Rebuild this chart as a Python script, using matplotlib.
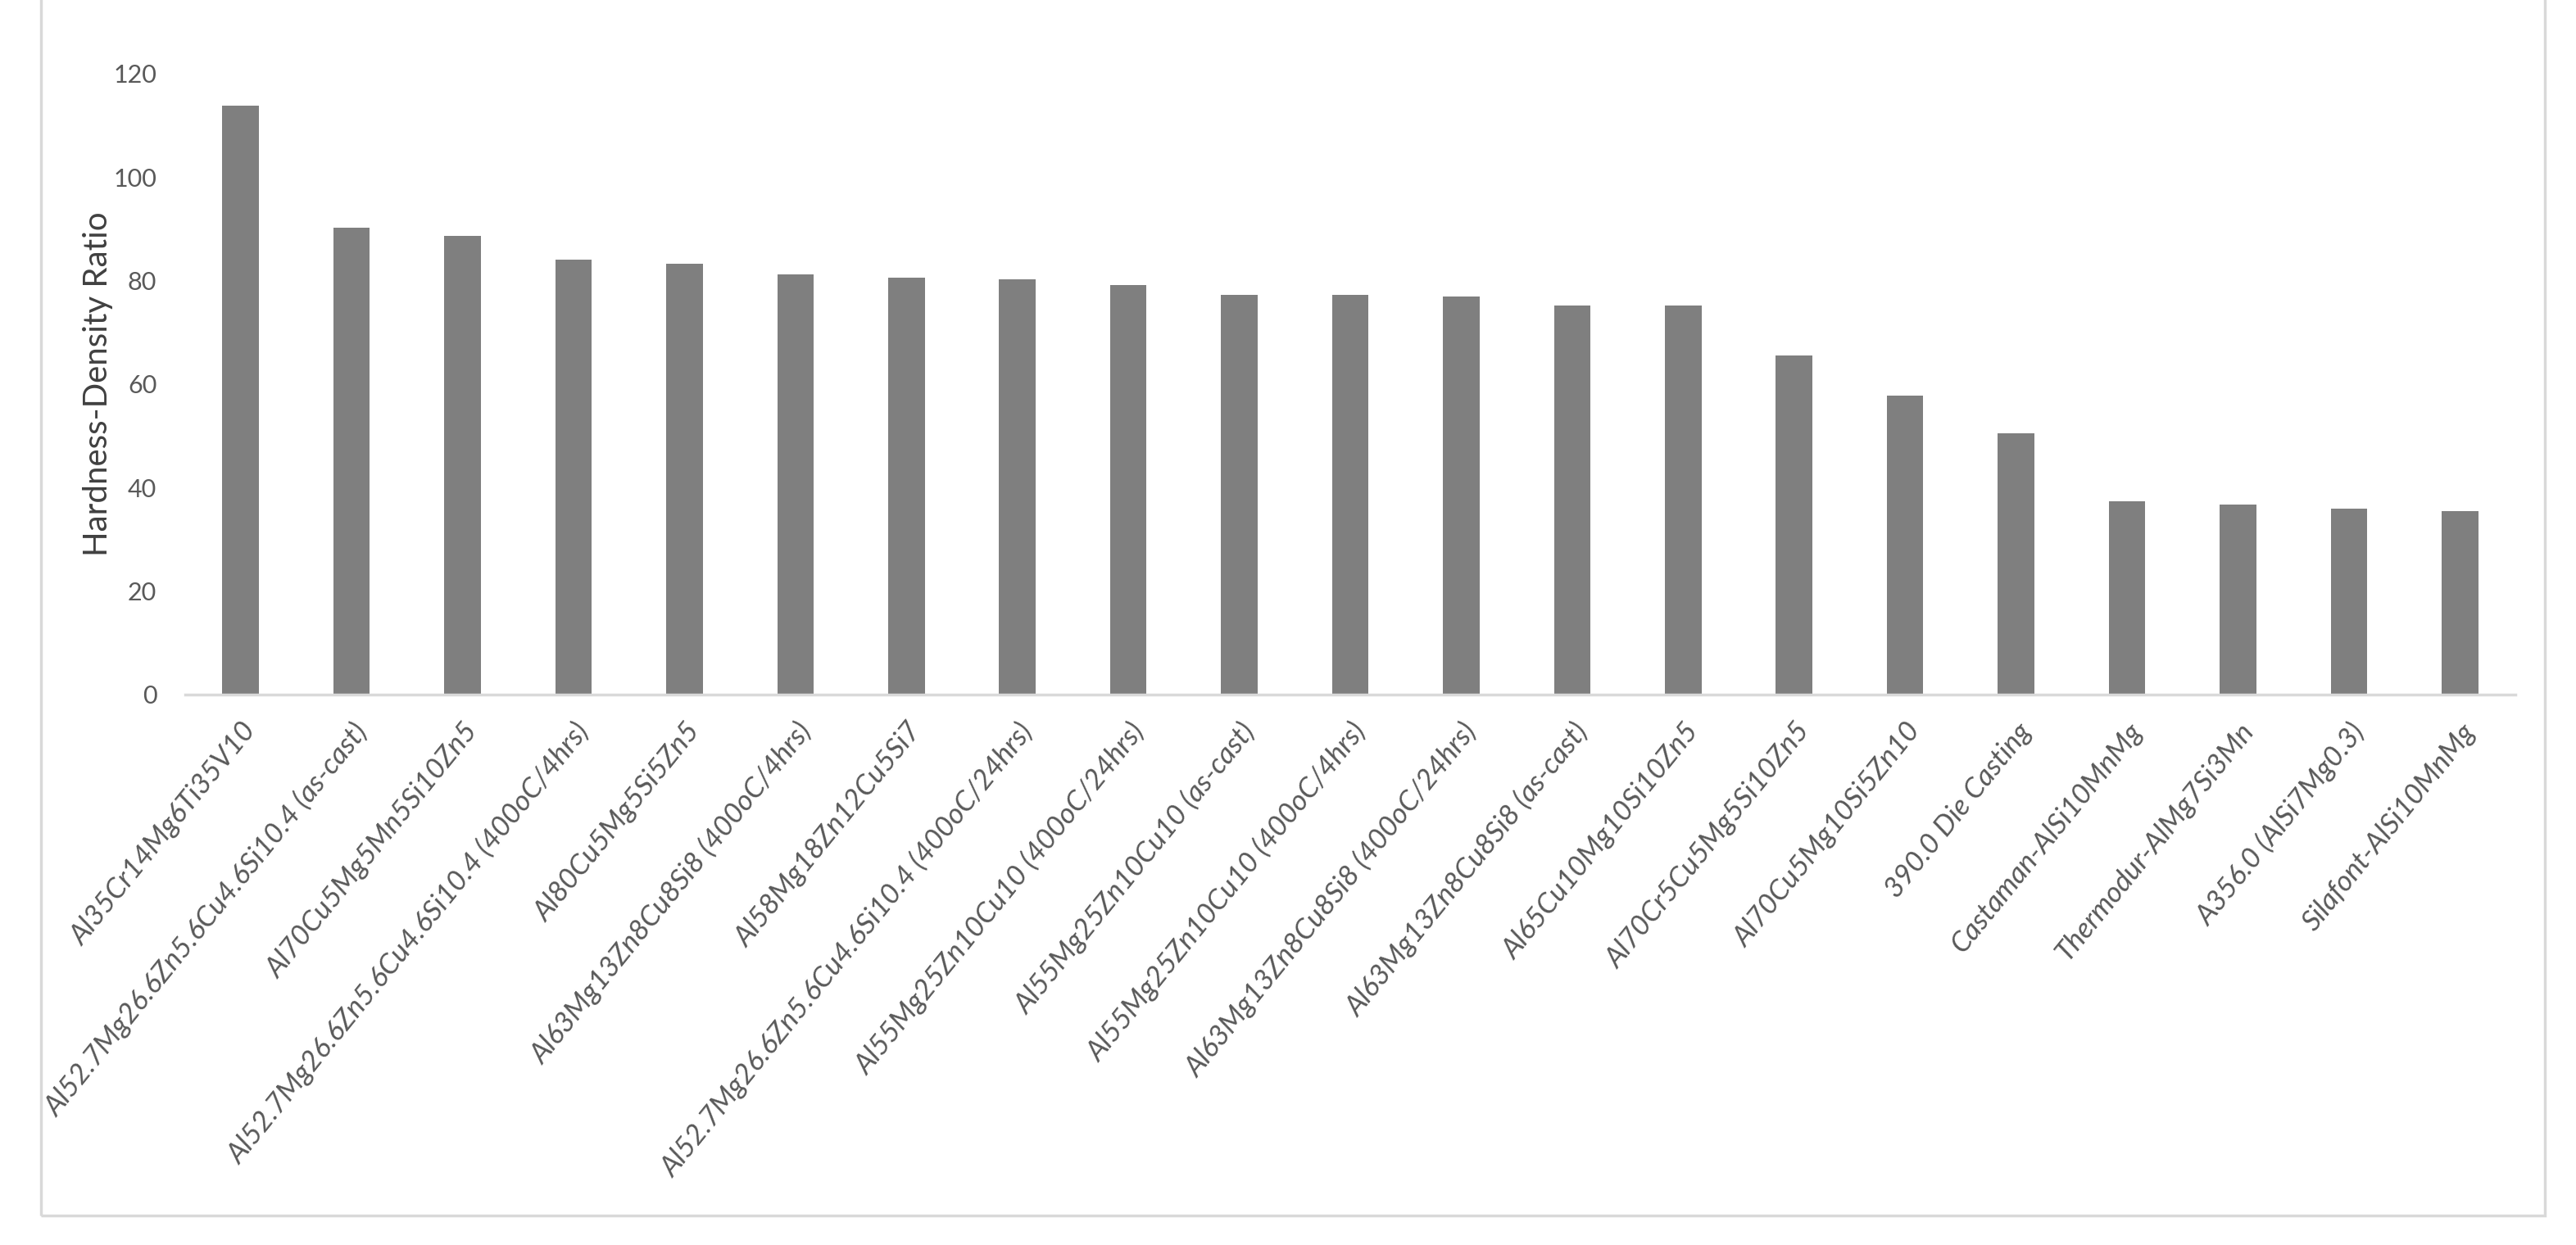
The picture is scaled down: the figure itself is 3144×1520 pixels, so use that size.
import matplotlib

matplotlib.use("Agg")
import matplotlib.pyplot as plt
from matplotlib.patches import Rectangle

plt.rcParams.update({"font.family": ["Lato", "DejaVu Sans"]})

alloys = [
    "Al35Cr14Mg6Ti35V10",
    "Al52.7Mg26.6Zn5.6Cu4.6Si10.4 (as-cast)",
    "Al70Cu5Mg5Mn5Si10Zn5",
    "Al52.7Mg26.6Zn5.6Cu4.6Si10.4 (400oC/4hrs)",
    "Al80Cu5Mg5Si5Zn5",
    "Al63Mg13Zn8Cu8Si8 (400oC/4hrs)",
    "Al58Mg18Zn12Cu5Si7",
    "Al52.7Mg26.6Zn5.6Cu4.6Si10.4 (400oC/24hrs)",
    "Al55Mg25Zn10Cu10 (400oC/24hrs)",
    "Al55Mg25Zn10Cu10 (as-cast)",
    "Al55Mg25Zn10Cu10 (400oC/4hrs)",
    "Al63Mg13Zn8Cu8Si8 (400oC/24hrs)",
    "Al63Mg13Zn8Cu8Si8 (as-cast)",
    "Al65Cu10Mg10Si10Zn5",
    "Al70Cr5Cu5Mg5Si10Zn5",
    "Al70Cu5Mg10Si5Zn10",
    "390.0 Die Casting",
    "Castaman-AlSi10MnMg",
    "Thermodur-AlMg7Si3Mn",
    "A356.0 (AlSi7Mg0.3)",
    "Silafont-AlSi10MnMg",
]
hd_ratio = [113.9, 90.3, 88.6, 84.1, 83.3, 81.2, 80.6, 80.3, 79.2, 77.2, 77.2,
            76.9, 75.2, 75.2, 65.5, 57.8, 50.5, 37.4, 36.7, 36.0, 35.4]
y_ticks = [0, 20, 40, 60, 80, 100, 120]

BAR = "#7f7f7f"
TXT = "#595959"

fig = plt.figure(figsize=(31.44, 15.2), dpi=100)
# light chart-area frame, as in the spreadsheet export
fig.patches.append(Rectangle((50 / 3144, 36 / 1520), 3056 / 3144, 1.2, transform=fig.transFigure,
                             fill=False, edgecolor="#d9d9d9", lw=2.5))

ax = fig.add_axes([226 / 3144, 1 - 848 / 1520, (3070 - 226) / 3144, (848 - 90) / 1520])
x = range(len(alloys))
ax.bar(x, hd_ratio, width=0.33, color=BAR, zorder=2)

ax.set_xlim(-0.5, len(alloys) - 0.5)
ax.set_ylim(0, 120)
ax.set_yticks(y_ticks)
ax.set_xticks(list(x))
ax.set_xticklabels(alloys, rotation=51, ha="right", va="top", rotation_mode="anchor",
                   fontsize=25, color=TXT, style="italic")
ax.tick_params(axis="x", length=0, pad=21)
ax.tick_params(axis="y", length=0, pad=25, labelsize=22, labelcolor=TXT)
ax.set_ylabel("Hardness-Density Ratio", fontsize=29, color="#404040")
ax.yaxis.set_label_coords(-0.031, 0.5)

for side in ("top", "right", "left"):
    ax.spines[side].set_visible(False)
ax.spines["bottom"].set_color("#d9d9d9")
ax.spines["bottom"].set_linewidth(2.5)

fig.savefig("out.png", dpi=100)
